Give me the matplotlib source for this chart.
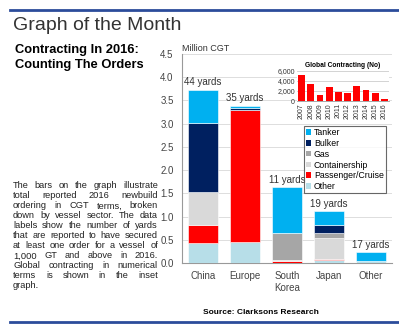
import numpy as np
import matplotlib.pyplot as plt
from matplotlib.patches import Rectangle, Patch
from matplotlib.lines import Line2D

plt.rcParams['font.family'] = ['Liberation Sans', 'DejaVu Sans']

# Datos principales (Million CGT por sector, de abajo hacia arriba)
regions = ['China', 'Europe', 'South\nKorea', 'Japan', 'Other']
yards = ['44 yards', '35 yards', '11 yards', '19 yards', '17 yards']
sectors = ['Other', 'Passenger/Cruise', 'Containership', 'Gas', 'Bulker', 'Tanker']
colors = ['#B7DEE8', '#FF0000', '#D9D9D9', '#A6A6A6', '#002060', '#00B0F0']
other_v = [0.43, 0.45, 0.01, 0.07, 0.05]
passenger_v = [0.39, 2.85, 0.04, 0.02, 0.0]
container_v = [0.71, 0.0, 0.01, 0.44, 0.0]
gas_v = [0.0, 0.0, 0.58, 0.11, 0.0]
bulker_v = [1.48, 0.03, 0.01, 0.18, 0.0]
tanker_v = [0.72, 0.06, 0.99, 0.30, 0.19]

# Inset: contratación global (número)
years = [str(y) for y in range(2007, 2017)]
contracts = [5150, 3370, 1190, 2710, 1840, 1520, 2970, 2180, 1650, 400]

body_lines = [
    "The bars on the graph illustrate",
    "total reported 2016 newbuild",
    "ordering in CGT terms, broken",
    "down by vessel sector. The data",
    "labels show the number of yards",
    "that are reported to have secured",
    "at least one order for a vessel of",
    "1,000 GT and above in 2016.",
    "Global contracting in numerical",
    "terms is shown in the inset",
    "graph.",
]

W, H = 399, 336
fig = plt.figure(figsize=(W / 100, H / 100), dpi=100)

# Líneas azules superior e inferior
fig.add_artist(Line2D([10 / W, 1], [1 - 10 / H, 1 - 10 / H], color='#2B4C9B', lw=2))
fig.add_artist(Line2D([10 / W, 1], [1 - 322 / H, 1 - 322 / H], color='#2B4C9B', lw=2))

fig.text(13 / W, 1 - 25 / H, 'Graph of the Month', fontsize=14, color='#333333',
         va='center', ha='left')
fig.text(15 / W, 1 - 50 / H, 'Contracting In 2016:', fontsize=9.3, weight='bold',
         va='center', ha='left')
fig.text(15 / W, 1 - 65 / H, 'Counting The Orders', fontsize=9.3, weight='bold',
         va='center', ha='left')

# Texto justificado
renderer = fig.canvas.get_renderer()
x0, x1 = 13, 158
fs = 6.7
for i, line in enumerate(body_lines):
    y = 1 - (186 + i * 10) / H
    if i == len(body_lines) - 1:
        fig.text(x0 / W, y, line, fontsize=fs, color='#222222', va='center')
        continue
    words = line.split()
    texts = [fig.text(0, y, w, fontsize=fs, color='#222222', va='center') for w in words]
    widths = [t.get_window_extent(renderer).width for t in texts]
    gap = (x1 - x0 - sum(widths)) / (len(words) - 1)
    x = x0
    for t, wd in zip(texts, widths):
        t.set_x(x / W)
        x += wd + gap

fig.text(203 / W, 1 - 312 / H, 'Source: Clarksons Research', fontsize=6, weight='bold',
         va='center')

# Gráfico principal
ax = fig.add_axes([182 / W, 1 - 263 / H, 210 / W, 209 / H])
x = np.arange(len(regions))
stack = [other_v, passenger_v, container_v, gas_v, bulker_v, tanker_v]
bottom = np.zeros(len(regions))
for vals, name, c in zip(stack, sectors, colors):
    ax.bar(x, vals, 0.71, bottom=bottom, color=c, edgecolor='white', linewidth=0.4,
           zorder=3, label=name)
    bottom += np.array(vals)

for xi, tot, lab in zip(x, bottom, yards):
    ax.text(xi, tot + 0.05, lab, ha='center', va='bottom', fontsize=7, color='#333333',
            zorder=4)

ax.set_xlim(-0.5, 4.5)
ax.set_ylim(0, 4.5)
ax.set_yticks(np.arange(0, 4.51, 0.5))
ax.set_yticklabels([f'{v:.1f}' for v in np.arange(0, 4.51, 0.5)])
ax.set_xticks(x)
ax.set_xticklabels(regions, linespacing=1.2)
ax.tick_params(length=0, labelsize=7, colors='#444444', pad=6)
ax.grid(axis='y', color='#DDDDDD', lw=0.7, zorder=0)
for s in ['top', 'right']:
    ax.spines[s].set_visible(False)
for s in ['left', 'bottom']:
    ax.spines[s].set_color('#999999')
    ax.spines[s].set_linewidth(0.8)
ax.text(0.0, 1.005, 'Million CGT', transform=ax.transAxes, fontsize=6.5, color='#333333',
        va='bottom', ha='left')

ax.add_patch(Rectangle((1.55, 3.1), 2.95, 1.35, facecolor='white', edgecolor='none',
                       zorder=1))

handles = [Patch(facecolor=c, edgecolor='none', label=n) for n, c in zip(sectors, colors)][::-1]
leg = ax.legend(handles=handles, loc='upper left', bbox_to_anchor=(0.58, 0.655),
                fontsize=6.3, frameon=True, fancybox=False, edgecolor='#444444',
                handlelength=0.6, handleheight=0.6, handletextpad=0.3,
                labelspacing=0.2, borderpad=0.25, borderaxespad=0)
leg.get_frame().set_linewidth(0.8)
leg.set_zorder(5)

# Inset
axi = fig.add_axes([297 / W, 1 - 101 / H, 92 / W, 30 / H])
axi.bar(np.arange(len(years)), contracts, 0.75, color='#FF0000', zorder=3)
axi.set_xlim(-0.5, 9.5)
axi.set_ylim(0, 6000)
axi.set_yticks([0, 2000, 4000, 6000])
axi.set_yticklabels(['0', '2,000', '4,000', '6,000'])
axi.set_xticks(np.arange(len(years)))
axi.set_xticklabels(years, rotation=90)
axi.tick_params(length=0, labelsize=5, colors='#333333', pad=1.5)
axi.grid(axis='y', color='#CCCCCC', lw=0.6, zorder=0)
for s in ['top', 'right', 'left']:
    axi.spines[s].set_visible(False)
axi.spines['bottom'].set_color('#999999')
axi.spines['bottom'].set_linewidth(0.6)
axi.set_title('Global Contracting (No)', fontsize=4.8, weight='bold', pad=3)

fig.savefig('out.png', dpi=100)
